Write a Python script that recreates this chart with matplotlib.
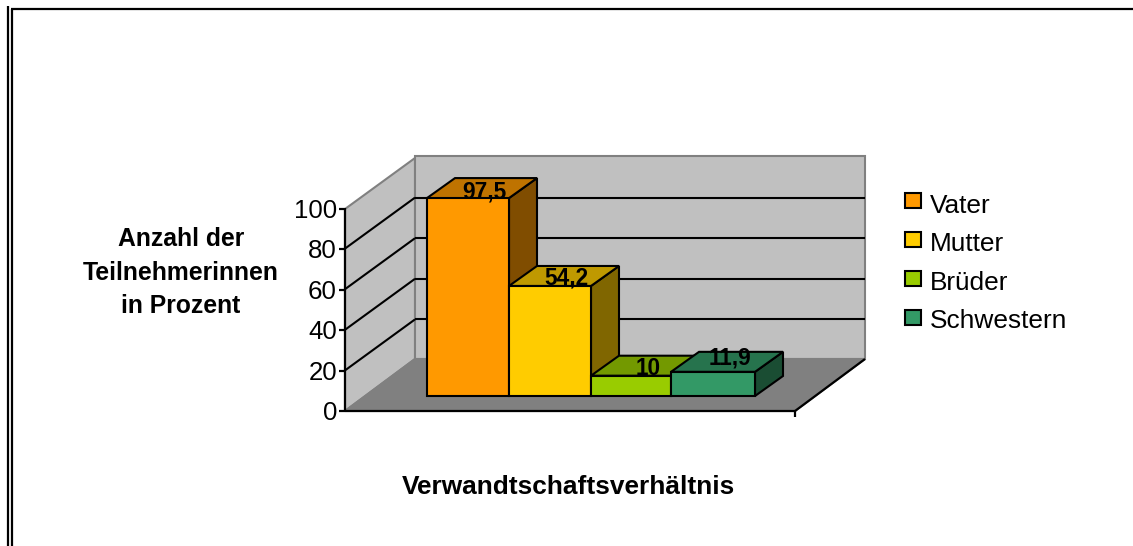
import numpy as np
import matplotlib
matplotlib.use("Agg")
import matplotlib.pyplot as plt
from matplotlib.patches import Polygon

plt.rcParams['font.family'] = ['Liberation Sans', 'DejaVu Sans']

categories = ['Vater', 'Mutter', 'Brüder', 'Schwestern']
values = [97.5, 54.2, 10, 11.9]
value_labels = ['97,5', '54,2', '10', '11,9']
y_ticks = [0, 20, 40, 60, 80, 100]

front_colors = ['#FF9900', '#FFCC00', '#99CC00', '#339966']
top_colors = ['#BF7300', '#BF9900', '#739900', '#26734D']
side_colors = ['#804D00', '#806600', '#4D6600', '#1A4D33']

W, H = 1133, 546
bar_px = 82      # width of one bar
unit_px = 2.03   # height of one percent
x0_px, y0_px = 427, 396   # front left foot of first bar

fig = plt.figure(figsize=(W / 100, H / 100), dpi=100)
ax = fig.add_axes([0, 0, 1, 1])
# x is counted in bars, y in percent, so bars come straight from the values
ax.set_xlim(-x0_px / bar_px, (W - x0_px) / bar_px)
ax.set_ylim((y0_px - H) / unit_px, y0_px / unit_px)
ax.axis('off')


def px(x, y):
    return (x - x0_px) / bar_px, (y0_px - y) / unit_px


def poly(points, color, edge='black', lw=1.5, z=1):
    ax.add_patch(Polygon([px(*p) for p in points], closed=True, facecolor=color,
                         edgecolor=edge, linewidth=lw, zorder=z, joinstyle='miter'))


def line(xs, ys, color='black', lw=1.5, z=2):
    pts = [px(a, b) for a, b in zip(xs, ys)]
    ax.plot([p[0] for p in pts], [p[1] for p in pts], color=color, lw=lw, zorder=z,
            solid_capstyle='butt')


# page frame
line([8, 8], [6, H], lw=1.6)
line([12, 12], [9, H], lw=1.6)
line([11, W], [9.5, 9.5], lw=1.6)

# walls and floor
left, right, floor_front, top_front = 345, 795, 411, 209
depth_x, depth_y = 70, 52
poly([(left, floor_front), (left, top_front), (left + depth_x, top_front - depth_y + 1),
      (left + depth_x, floor_front - depth_y)], '#C0C0C0', edge='#808080')
poly([(left + depth_x, floor_front - depth_y), (left + depth_x, 156), (right + depth_x, 156),
      (right + depth_x, floor_front - depth_y)], '#C0C0C0', edge='#808080')
poly([(left, floor_front), (left + depth_x, floor_front - depth_y),
      (right + depth_x, floor_front - depth_y), (right, floor_front)], '#808080', edge='#808080')

# gridlines on both walls
for t in y_ticks[1:-1]:
    fy = floor_front - t * unit_px
    by = fy - depth_y + 1
    line([left, left + depth_x], [fy, by])
    line([left + depth_x, right + depth_x], [by, by])

# axes
line([left, left], [top_front - 1, floor_front + 1], lw=1.6, z=3)
line([left, right], [floor_front, floor_front], lw=1.6, z=3)
line([right, right + depth_x], [floor_front, floor_front - depth_y], lw=1.6, z=3)
line([right, right], [floor_front, floor_front + 6], lw=1.6, z=3)
for t in y_ticks:
    fy = floor_front - t * unit_px * 0.995
    line([left - 6, left], [fy, fy], lw=1.6, z=3)
    ax.text(*px(left - 8, fy + 9), str(t), ha='right', va='baseline', fontsize=18.6)

# bars, drawn by hand because of the fake 3d look
dx, dy = 28 / bar_px, 20 / unit_px
edges = [0, 1, 2, 2.976, 4]
for i, v in enumerate(values):
    z = 5 + i
    a, b = edges[i], edges[i + 1]
    ax.add_patch(Polygon([(b, 0), (b + dx, dy), (b + dx, v + dy), (b, v)],
                         closed=True, facecolor=side_colors[i], edgecolor='black', lw=1.5, zorder=z))
    ax.add_patch(Polygon([(a, v), (a + dx, v + dy), (b + dx, v + dy), (b, v)],
                         closed=True, facecolor=top_colors[i], edgecolor='black', lw=1.5, zorder=z))
    ax.add_patch(Polygon([(a, 0), (b, 0), (b, v), (a, v)],
                         closed=True, facecolor=front_colors[i], edgecolor='black', lw=1.5, zorder=z))

label_nudge = [3.2, 4, 3.6, 7]  # percent above the front top edge
for i, (v, s) in enumerate(zip(values, value_labels)):
    ax.text(i + 0.5 + 16 / bar_px, v + label_nudge[i], s, ha='center', va='center',
            fontsize=16.3, fontweight='bold', zorder=20)

# axis titles
ax.text(*px(181, 273), 'Anzahl der\nTeilnehmerinnen\nin Prozent', ha='center', va='center',
        fontsize=17.8, fontweight='bold', linespacing=1.5)
ax.text(*px(568, 487), 'Verwandtschaftsverhältnis', ha='center', va='center',
        fontsize=18.9, fontweight='bold')

# legend
for i, name in enumerate(categories):
    top = 193 + 39 * i
    poly([(905, top), (921, top), (921, top + 15), (905, top + 15)], front_colors[i], z=4)
    ax.text(*px(930, 213 + 38.3 * i), name, ha='left', va='baseline', fontsize=18.9)

plt.savefig('out.png', dpi=100)
